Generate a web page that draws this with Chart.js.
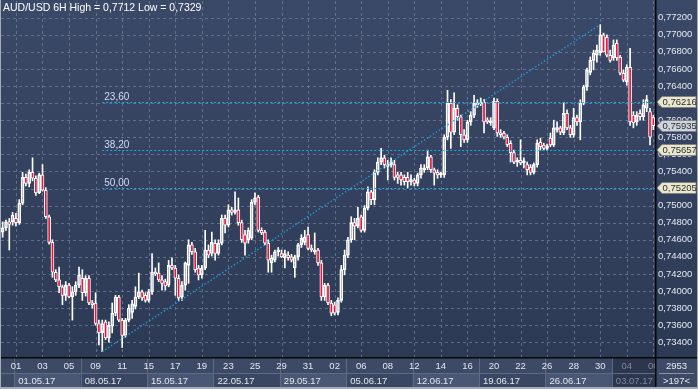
<!DOCTYPE html>
<html><head><meta charset="utf-8">
<script src="https://cdn.jsdelivr.net/npm/chart.js@4.4.1/dist/chart.umd.min.js"></script>
<style>html,body{margin:0;padding:0;background:#2f3b55;}canvas{display:block;}</style>
</head><body>
<canvas id="c" width="698" height="389"></canvas>
<script>
// ---- DATA (AUD/USD, 6H candles, 28.04.17 .. 05.07.17) ----
const openVals = [
.7469,.7474,.7481,.7481,.7485,.7480,.7503,.7533,.7526,.7539,
.7532,.7515,.7536,.7518,.7487,.7457,.7422,.7413,.7405,.7395,
.7407,.7393,.7399,.7407,.7415,.7398,.7415,.7386,.7386,.7362,
.7351,.7364,.7345,.7359,.7374,.7393,.7366,.7348,.7366,.7375,
.7382,.7393,.7399,.7395,.7389,.7399,.7422,.7421,.7413,.7411,
.7407,.7430,.7427,.7415,.7393,.7407,.7430,.7454,.7446,.7427,
.7419,.7427,.7448,.7444,.7456,.7444,.7456,.7485,.7477,.7495,
.7492,.7495,.7480,.7466,.7460,.7462,.7504,.7510,.7471,.7469,
.7456,.7433,.7436,.7446,.7444,.7439,.7442,.7440,.7427,.7440,
.7454,.7457,.7466,.7450,.7446,.7448,.7433,.7393,.7407,.7386,
.7384,.7375,.7389,.7425,.7442,.7460,.7480,.7476,.7487,.7471,
.7497,.7516,.7507,.7539,.7551,.7556,.7546,.7548,.7548,.7536,
.7536,.7533,.7533,.7528,.7530,.7526,.7536,.7542,.7544,.7557,
.7542,.7539,.7536,.7536,.7580,.7620,.7586,.7614,.7604,.7583,
.7577,.7598,.7606,.7620,.7619,.7621,.7600,.7597,.7591,.7622,
.7585,.7585,.7580,.7573,.7562,.7551,.7553,.7550,.7548,.7545,
.7539,.7548,.7574,.7571,.7567,.7579,.7571,.7589,.7591,.7585,
.7608,.7591,.7583,.7603,.7598,.7620,.7639,.7656,.7670,.7676,
.7679,.7700,.7697,.7676,.7673,.7690,.7674,.7655,.7645,.7662,
.7606,.7598,.7608,.7604,.7614,.7610,.7603];
const highVals = [
.7481,.7483,.7485,.7492,.7491,.7507,.7539,.7537,.7542,.7556,
.7535,.7538,.7548,.7521,.7489,.7460,.7425,.7428,.7407,.7411,
.7409,.7405,.7411,.7428,.7425,.7418,.7418,.7389,.7398,.7366,
.7366,.7366,.7364,.7386,.7395,.7395,.7368,.7368,.7384,.7389,
.7405,.7421,.7401,.7398,.7402,.7444,.7427,.7433,.7418,.7414,
.7436,.7439,.7430,.7419,.7411,.7434,.7460,.7457,.7450,.7430,
.7430,.7471,.7454,.7469,.7460,.7460,.7489,.7489,.7501,.7498,
.7516,.7509,.7483,.7471,.7474,.7507,.7515,.7512,.7474,.7471,
.7460,.7442,.7448,.7451,.7448,.7448,.7446,.7443,.7442,.7456,
.7466,.7471,.7475,.7454,.7468,.7450,.7436,.7409,.7409,.7389,
.7387,.7392,.7430,.7448,.7463,.7487,.7485,.7498,.7489,.7500,
.7522,.7518,.7542,.7556,.7567,.7559,.7553,.7556,.7553,.7539,
.7539,.7536,.7539,.7536,.7532,.7538,.7548,.7548,.7565,.7559,
.7544,.7542,.7539,.7583,.7635,.7624,.7632,.7618,.7606,.7589,
.7600,.7610,.7629,.7624,.7626,.7624,.7603,.7603,.7626,.7625,
.7589,.7587,.7583,.7576,.7565,.7556,.7577,.7556,.7551,.7548,
.7550,.7577,.7579,.7573,.7572,.7585,.7600,.7598,.7593,.7621,
.7612,.7594,.7614,.7606,.7624,.7641,.7661,.7674,.7682,.7688,
.7712,.7702,.7700,.7682,.7694,.7694,.7676,.7659,.7665,.7684,
.7610,.7610,.7612,.7624,.7629,.7614,.7606];
const lowVals = [
.7463,.7471,.7448,.7477,.7476,.7478,.7501,.7523,.7522,.7529,
.7512,.7514,.7517,.7485,.7455,.7416,.7411,.7398,.7384,.7389,
.7392,.7366,.7395,.7404,.7389,.7394,.7384,.7380,.7360,.7337,
.7329,.7343,.7340,.7351,.7371,.7364,.7334,.7346,.7364,.7368,
.7379,.7391,.7389,.7387,.7387,.7396,.7418,.7411,.7401,.7401,
.7405,.7425,.7395,.7389,.7389,.7401,.7409,.7443,.7422,.7413,
.7415,.7425,.7439,.7441,.7436,.7442,.7454,.7468,.7475,.7489,
.7490,.7477,.7457,.7442,.7456,.7460,.7501,.7469,.7466,.7454,
.7422,.7422,.7434,.7441,.7439,.7427,.7436,.7434,.7416,.7436,
.7451,.7454,.7448,.7446,.7443,.7430,.7389,.7389,.7384,.7371,
.7372,.7372,.7387,.7419,.7439,.7457,.7460,.7474,.7469,.7469,
.7495,.7501,.7501,.7536,.7548,.7544,.7530,.7545,.7530,.7526,
.7524,.7524,.7521,.7524,.7523,.7523,.7532,.7539,.7542,.7539,
.7524,.7532,.7533,.7533,.7577,.7567,.7583,.7600,.7569,.7574,
.7574,.7594,.7603,.7615,.7617,.7585,.7596,.7594,.7589,.7581,
.7580,.7578,.7569,.7551,.7549,.7546,.7548,.7544,.7536,.7536,
.7537,.7545,.7565,.7565,.7565,.7569,.7569,.7586,.7583,.7583,
.7589,.7580,.7580,.7594,.7577,.7618,.7635,.7653,.7659,.7668,
.7676,.7680,.7674,.7668,.7670,.7670,.7653,.7645,.7641,.7594,
.7591,.7594,.7600,.7600,.7610,.7571,.7589];
const closeVals = [
.7474,.7481,.7478,.7489,.7480,.7503,.7533,.7526,.7539,.7532,
.7515,.7536,.7518,.7487,.7457,.7422,.7413,.7405,.7395,.7407,
.7393,.7399,.7407,.7419,.7398,.7415,.7386,.7384,.7362,.7351,
.7362,.7345,.7360,.7374,.7393,.7366,.7348,.7366,.7380,.7385,
.7393,.7399,.7392,.7389,.7399,.7422,.7420,.7413,.7409,.7406,
.7430,.7427,.7415,.7392,.7407,.7433,.7454,.7446,.7425,.7419,
.7427,.7448,.7442,.7457,.7444,.7456,.7485,.7477,.7495,.7492,
.7495,.7480,.7460,.7456,.7471,.7504,.7509,.7471,.7468,.7456,
.7436,.7439,.7446,.7448,.7440,.7444,.7439,.7436,.7440,.7454,
.7462,.7463,.7450,.7448,.7448,.7433,.7393,.7407,.7386,.7374,
.7374,.7389,.7425,.7442,.7460,.7480,.7476,.7485,.7471,.7497,
.7516,.7507,.7539,.7551,.7556,.7548,.7548,.7551,.7533,.7533,
.7530,.7528,.7528,.7530,.7526,.7536,.7544,.7544,.7557,.7542,
.7538,.7536,.7537,.7580,.7620,.7586,.7614,.7604,.7583,.7577,
.7598,.7606,.7620,.7618,.7621,.7598,.7598,.7599,.7622,.7585,
.7583,.7580,.7571,.7562,.7551,.7553,.7550,.7552,.7542,.7539,
.7548,.7573,.7569,.7567,.7570,.7571,.7591,.7591,.7586,.7608,
.7591,.7583,.7603,.7598,.7620,.7639,.7659,.7670,.7679,.7682,
.7700,.7680,.7676,.7670,.7688,.7673,.7655,.7647,.7662,.7598,
.7597,.7606,.7604,.7618,.7624,.7580,.75935];

const dayTickBars = [4,12,20,28,36,44,52,60,68,76,84,92,100,108,116,124,132,140,148,156,164,172,180,188,196];
const dayTickLabels = ['01','03','05','09','11','15','17','19','23','25','29','31','02','06','08','12','14','16','20','22','26','28','30','04','06'];
const weekStartBars = [4,24,44,64,84,104,124,144,164,184];
const weekLabels = ['01.05.17','08.05.17','15.05.17','22.05.17','29.05.17','05.06.17','12.06.17','19.06.17','26.06.17','03.07.17'];
const fibLevels = [0.76216, 0.75657, 0.75205];
const fibLabels = ['23,60','38,20','50,00'];
const trendFrom = {bar:30, price:0.7329};
const trendTo = {bar:180, price:0.7712};
const lastPrice = 0.75935;
const titleText = 'AUD/USD 6H High = 0,7712 Low = 0,7329';
const cornerTop = '2953', cornerBottom = '>197<';
const yTickStep = 0.002;

// ---- build ----
const categories = openVals.map((v,i)=>String(i));
const RED = '#e3173e';
const FONT = '"Liberation Sans", Arial, sans-serif';
const fmt = v => v.toFixed(5).replace('.', ',');

const upperWick = highVals.map((h,i)=>[Math.max(openVals[i],closeVals[i]), h]);
const lowerWick = lowVals.map((l,i)=>[l, Math.min(openVals[i],closeVals[i])]);
const bodies = openVals.map((o,i)=>[o, closeVals[i]]);
const bodyColors = openVals.map((o,i)=> closeVals[i] < o ? RED : 'rgba(0,0,0,0)');

function line(ctx,x1,y1,x2,y2){ctx.beginPath();ctx.moveTo(x1,y1);ctx.lineTo(x2,y2);ctx.stroke();}

const decor = {
  id:'decor',
  beforeDraw(chart){
    const {ctx,width,height} = chart;
    ctx.save();
    const g = ctx.createLinearGradient(0,0,0,358);
    g.addColorStop(0,'#3b4968'); g.addColorStop(1,'#2d3a55');
    ctx.fillStyle = g; ctx.fillRect(0,0,width,height);
    ctx.restore();
  },
  beforeDatasetsDraw(chart){
    const {ctx, chartArea:a, scales:{x,y}} = chart;
    ctx.save();
    ctx.beginPath(); ctx.rect(a.left,a.top,a.right-a.left,a.bottom-a.top); ctx.clip();
    ctx.strokeStyle = 'rgba(112,126,153,0.75)'; ctx.lineWidth = 1; ctx.setLineDash([3,3]);
    y.ticks.forEach(t=>{ const py = Math.round(y.getPixelForValue(t.value))+0.5; line(ctx,a.left,py,a.right,py); });
    dayTickBars.forEach(b=>{ const px = Math.round(x.getPixelForValue(b))+0.5; line(ctx,px,a.top,px,a.bottom); });
    ctx.restore();
  },
  afterDatasetsDraw(chart){
    const {ctx, chartArea:a, scales:{x,y}} = chart;
    ctx.save();
    ctx.beginPath(); ctx.rect(a.left,a.top,a.right-a.left,a.bottom-a.top); ctx.clip();
    // trend line
    ctx.strokeStyle = '#1c9ad8'; ctx.lineWidth = 1.4; ctx.setLineDash([1.5,2]);
    line(ctx, x.getPixelForValue(trendFrom.bar), y.getPixelForValue(trendFrom.price),
              x.getPixelForValue(trendTo.bar), y.getPixelForValue(trendTo.price));
    // fib lines
    const fx = x.getPixelForValue(trendFrom.bar);
    ctx.strokeStyle = '#17aef0'; ctx.lineWidth = 1; ctx.setLineDash([2,2]);
    ctx.font = '10px ' + FONT; ctx.fillStyle = '#cfdcf4'; ctx.textBaseline = 'alphabetic'; ctx.textAlign='left';
    fibLevels.forEach((lv,k)=>{
      const py = Math.round(y.getPixelForValue(lv))+0.5;
      line(ctx, fx, py, a.right, py);
      ctx.fillText(fibLabels[k], fx+2, py-2.5);
    });
    ctx.restore();
  },
  afterDraw(chart){
    const {ctx, chartArea:a, scales:{x,y}, width, height} = chart;
    const bw = x.getPixelForValue(1) - x.getPixelForValue(0);
    ctx.save();
    const top = 358, r1b = 373, r2b = 387;
    // x-axis area
    ctx.fillStyle = '#3d4a66'; ctx.fillRect(0, top, a.right, r2b-top);
    ctx.font = '9.5px ' + FONT; ctx.textBaseline = 'middle';
    const lastWeekX = x.getPixelForValue(weekStartBars[weekStartBars.length-1]) - bw/2;
    weekStartBars.forEach((b,k)=>{
      const x0 = x.getPixelForValue(b) - bw/2;
      const x1 = k+1 < weekStartBars.length ? x.getPixelForValue(weekStartBars[k+1]) - bw/2 : a.right;
      const last = k === weekStartBars.length-1;
      ctx.fillStyle = last ? '#2c374e' : (k%2===0 ? '#4a5774' : '#3a4762');
      ctx.fillRect(x0, r1b+1, x1-x0, r2b-r1b-1);
      if (last) { ctx.fillStyle = '#2c374e'; ctx.fillRect(x0, top, x1-x0, r1b-top+1); }
      ctx.fillStyle = '#5e6b85'; ctx.fillRect(Math.round(x0), top, 1, r2b-top);
      ctx.fillStyle = last ? '#7f889b' : '#e2e6ee'; ctx.textAlign = 'left';
      ctx.save(); ctx.beginPath(); ctx.rect(0,top,a.right,r2b-top); ctx.clip();
      ctx.fillText(weekLabels[k], x0+4, (r1b+r2b)/2+1);
      ctx.restore();
    });
    ctx.fillStyle = '#5e6b85'; ctx.fillRect(0, r1b, a.right, 1);
    ctx.save(); ctx.beginPath(); ctx.rect(0,top,a.right,r2b-top); ctx.clip();
    ctx.textAlign = 'center';
    dayTickBars.forEach((b,k)=>{
      const px = x.getPixelForValue(b);
      ctx.fillStyle = px >= lastWeekX ? '#7f889b' : '#e2e6ee';
      ctx.fillText(dayTickLabels[k], px, (top+r1b)/2+1);
    });
    ctx.restore();
    // corner cell
    ctx.fillStyle = '#3d4a66'; ctx.fillRect(a.right, top, width-a.right, r2b-top);
    ctx.fillStyle = '#e6eaf2'; ctx.textAlign = 'center';
    ctx.fillText(cornerTop, (a.right+width)/2, 366);
    ctx.fillText(cornerBottom, (a.right+width)/2, 381);
    ctx.fillStyle = '#8c95a8'; ctx.fillRect(a.right+4, r1b, width-a.right-8, 1);
    // black separators
    ctx.fillStyle = '#05070b';
    ctx.fillRect(0, top-1, width, 1.5);
    ctx.fillRect(a.right, 0, 1.5, r2b);
    // price tags
    const tag = (v, fill) => {
      const py = Math.round(y.getPixelForValue(v));
      const x0 = a.right + 2;
      ctx.beginPath();
      ctx.moveTo(x0, py); ctx.lineTo(x0+5, py-5.5); ctx.lineTo(width-2, py-5.5);
      ctx.lineTo(width-2, py+5.5); ctx.lineTo(x0+5, py+5.5); ctx.closePath();
      ctx.fillStyle = fill; ctx.fill();
      ctx.strokeStyle = '#7d7f78'; ctx.lineWidth = 0.8; ctx.stroke();
      ctx.fillStyle = '#2a2e38'; ctx.textAlign = 'left'; ctx.textBaseline = 'middle';
      ctx.fillText(fmt(v), x0+5.5, py+0.5);
    };
    fibLevels.forEach(v=>tag(v, '#ebe7cc'));
    tag(lastPrice, '#cfd3dc');
    // title
    ctx.font = '10.5px ' + FONT; ctx.fillStyle = '#ffffff'; ctx.textAlign = 'left'; ctx.textBaseline = 'middle';
    ctx.fillText(titleText, 3, 8.5);
    // frame
    ctx.fillStyle = '#a3abba';
    ctx.fillRect(0, 0, 1, height);
    ctx.fillRect(0, r2b, width, height-r2b);
    ctx.fillRect(width-1, 0, 1, height);
    ctx.restore();
  }
};

new Chart(document.getElementById('c'), {
  type: 'bar',
  data: {
    labels: categories,
    datasets: [
      { label:'upper', data: upperWick, backgroundColor:'#ffffff', barThickness:1, grouped:false, order:3 },
      { label:'lower', data: lowerWick, backgroundColor:'#ffffff', barThickness:1, grouped:false, order:3 },
      { label:'body', data: bodies, backgroundColor: bodyColors, borderColor:'#ffffff', borderWidth:1,
        borderSkipped:false, barThickness:3, grouped:false, minBarLength:2, order:1 }
    ]
  },
  options: {
    responsive:false, animation:false, devicePixelRatio:1,
    layout:{ padding:{ left:1, top:1, right:0, bottom:0 } },
    plugins:{ legend:{display:false}, tooltip:{enabled:false} },
    scales:{
      x:{ offset:true, grid:{display:false, drawTicks:false}, border:{display:false},
          ticks:{display:false, autoSkip:false},
          afterFit:s=>{ s.height = 31; s.paddingLeft = 0; s.paddingRight = 0; } },
      y:{ position:'right', min:0.732161, max:0.773955,
          grid:{display:false, drawTicks:false}, border:{display:false},
          ticks:{ stepSize:yTickStep, includeBounds:false, padding:3, color:'#e4e8f0',
                  font:{family:FONT, size:9.5}, callback:v=>fmt(v) },
          afterFit:s=>{ s.width = 43; s.paddingTop = 0; s.paddingBottom = 0; } }
    }
  },
  plugins:[decor]
});
</script>
</body></html>
